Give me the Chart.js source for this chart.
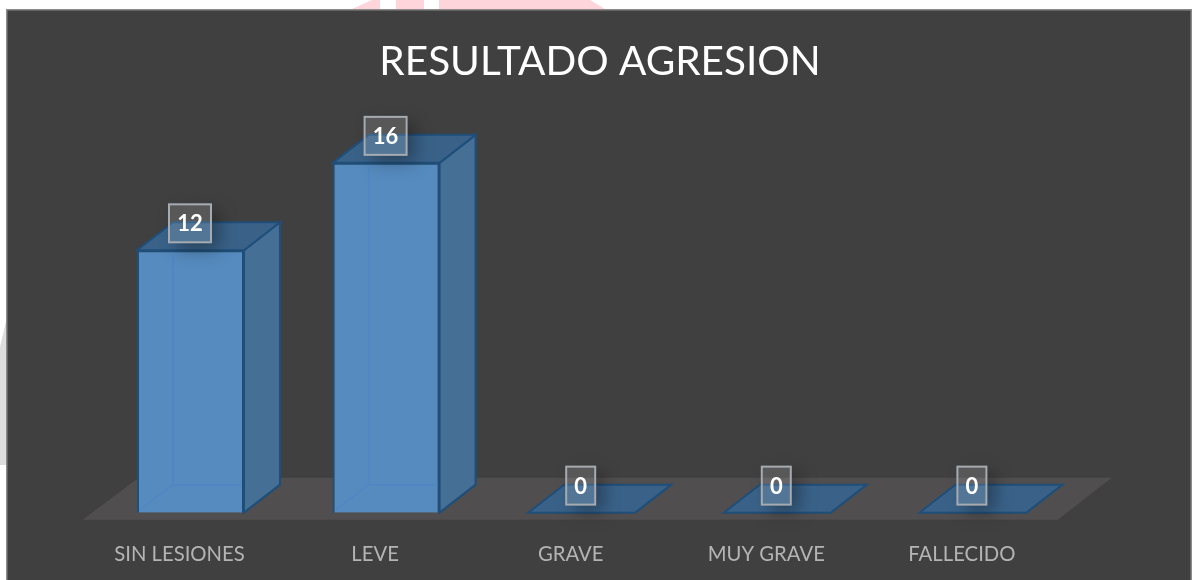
<!DOCTYPE html>
<html>
<head>
<meta charset="utf-8">
<style>html,body{margin:0;padding:0;background:#fff;overflow:hidden}canvas{display:block}</style>
<script src="https://cdn.jsdelivr.net/npm/chart.js@4"></script>
</head>
<body>
<canvas id="c" width="1199" height="580"></canvas>
<script>
const categories = ['SIN LESIONES', 'LEVE', 'GRAVE', 'MUY GRAVE', 'FALLECIDO'];
const values = [12, 16, 0, 0, 0];
const chartTitle = 'RESULTADO AGRESION';
const DX = 36, DY = 28;

function poly(ctx, pts, fill, stroke, lw) {
  ctx.beginPath();
  pts.forEach((p, i) => i ? ctx.lineTo(p[0], p[1]) : ctx.moveTo(p[0], p[1]));
  ctx.closePath();
  if (fill) { ctx.fillStyle = fill; ctx.fill(); }
  if (stroke) { ctx.strokeStyle = stroke; ctx.lineWidth = lw || 2; ctx.lineJoin = 'miter'; ctx.stroke(); }
}

const backdrop = {
  id: 'backdrop',
  afterLayout(chart) {
    // centre the title over the panel rather than the plot area
    chart.titleBlock.left = 0;
    chart.titleBlock.right = 1200;
  },
  beforeDraw(chart) {
    const c = chart.ctx;
    c.save();
    c.fillStyle = '#fff'; c.fillRect(0, 0, 1199, 580);
    // watermark behind the panel
    poly(c, [[352,9],[372,0],[380,0],[380,9]], '#fdd5da');
    poly(c, [[396,0],[424,0],[424,9],[396,9]], '#fdd5da');
    poly(c, [[439,0],[590,0],[605,9],[439,9]], '#fdd5da');
    poly(c, [[0,347],[6,321],[6,465],[0,465]], '#dcdddc');
    // panel
    c.fillStyle = '#404040'; c.fillRect(6, 9, 1186, 571);
    c.strokeStyle = '#8a8a8a'; c.lineWidth = 1.5;
    c.beginPath(); c.moveTo(6.75, 580); c.lineTo(6.75, 9.75); c.lineTo(1191.25, 9.75); c.lineTo(1191.25, 580); c.stroke();
    // floor
    const x = chart.scales.x, y = chart.scales.y, b = y.getPixelForValue(0);
    poly(c, [[x.left - 10, b + 7], [x.right - 13, b + 7], [x.right + 41, b - 35], [x.left + 46, b - 35]], '#504e4e');
    c.restore();
  },
  beforeDatasetsDraw(chart) {
    const c = chart.ctx;
    c.save();
    chart.getDatasetMeta(0).data.forEach(bar => {
      const l = bar.x - bar.width / 2, r = bar.x + bar.width / 2, t = bar.y, b = bar.base;
      // side and top faces
      if (b - t > 1) poly(c, [[r, t], [r + DX, t - DY], [r + DX, b - DY], [r, b]], '#456f95', '#1f4e79', 2);
      poly(c, [[l, t], [r, t], [r + DX, t - DY], [l + DX, t - DY]], '#3a6288', '#1f4e79', 2);
    });
    c.restore();
  },
  afterDatasetsDraw(chart) {
    const c = chart.ctx;
    const meta = chart.getDatasetMeta(0);
    c.save();
    meta.data.forEach(bar => {
      const l = bar.x - bar.width / 2, r = bar.x + bar.width / 2, t = bar.y, b = bar.base;
      if (b - t > 1) {
        // hidden back edges seen through the front face
        c.strokeStyle = 'rgba(78,134,196,0.85)'; c.lineWidth = 1.5;
        c.beginPath();
        c.moveTo(l + DX, t + 2); c.lineTo(l + DX, b - DY); c.lineTo(l + 2, b - 2);
        c.moveTo(l + DX, b - DY); c.lineTo(r - 2, b - DY);
        c.stroke();
      }
    });
    // value labels
    meta.data.forEach((bar, i) => {
      const txt = String(values[i]);
      const w = txt.length > 1 ? 42 : 29, h = 38;
      const bx = bar.x - w / 2 - (txt.length > 1 ? 0.5 : 1), by = bar.y - 27 - h / 2;
      // soft shadow, kept outside the box
      c.save();
      c.beginPath();
      c.rect(0, 0, 1199, 580);
      c.rect(bx, by, w, h);
      c.clip('evenodd');
      c.shadowColor = 'rgba(0,0,0,0.34)';
      c.shadowBlur = 18;
      c.shadowOffsetX = 2000 + 8;
      c.shadowOffsetY = 7;
      c.fillStyle = '#000';
      c.fillRect(bx - 2000, by, w, h);
      c.restore();
      c.fillStyle = 'rgba(255,255,255,0.13)';
      c.fillRect(bx, by, w, h);
      c.strokeStyle = '#a5abb0'; c.lineWidth = 2;
      c.strokeRect(bx, by, w, h);
      c.fillStyle = '#fff';
      c.font = 'bold 22px Lato';
      c.textAlign = 'center'; c.textBaseline = 'middle';
      c.fillText(txt, bx + w / 2, by + h / 2 + 1);
    });
    c.restore();
  }
};

new Chart(document.getElementById('c'), {
  type: 'bar',
  data: {
    labels: categories,
    datasets: [{
      data: values,
      backgroundColor: '#568bbf',
      borderColor: '#1f4e79',
      borderWidth: 2,
      barPercentage: 0.547,
      categoryPercentage: 1
    }]
  },
  plugins: [backdrop],
  options: {
    responsive: false,
    animation: false,
    layout: { padding: { left: 92.7, right: 128.3, top: 0, bottom: -9 } },
    plugins: {
      legend: { display: false },
      tooltip: { enabled: false },
      title: {
        display: true,
        text: chartTitle,
        color: '#fff',
        font: { family: 'Lato', size: 40.5, weight: 'normal' },
        padding: { top: 37.7, bottom: 7.7 }
      }
    },
    scales: {
      x: {
        grid: { display: false },
        border: { display: false },
        ticks: {
          color: '#b4b4b4',
          font: { family: 'Lato', size: 20.3 },
          padding: 22,
          labelOffset: -11,
          maxRotation: 0
        }
      },
      y: { display: false, min: 0, max: 19.15 }
    }
  }
});
</script>
</body>
</html>
